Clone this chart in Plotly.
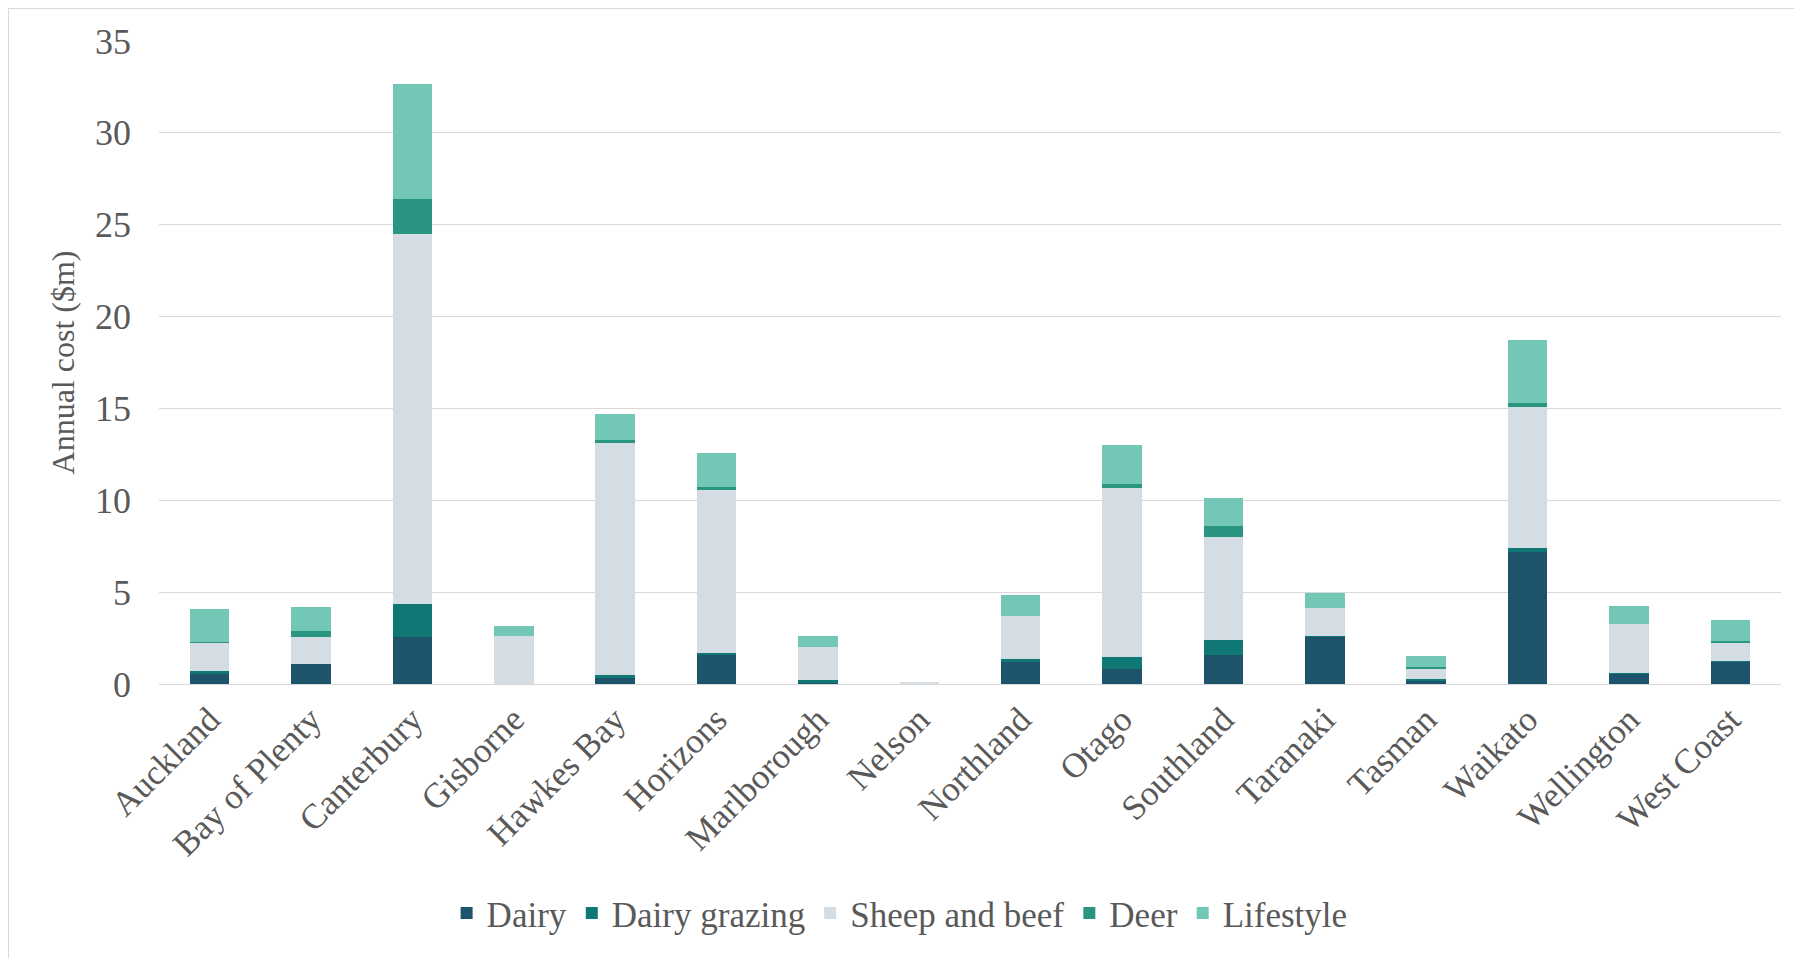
import plotly.graph_objects as go

regions = ["Auckland", "Bay of Plenty", "Canterbury", "Gisborne", "Hawkes Bay", "Horizons",
           "Marlborough", "Nelson", "Northland", "Otago", "Southland", "Taranaki",
           "Tasman", "Waikato", "Wellington", "West Coast"]

dairy          = [0.57, 1.07, 2.55, 0.00, 0.33, 1.63, 0.08, 0.00, 1.18, 0.83, 1.60, 2.57, 0.18, 7.21, 0.55, 1.25]
dairy_grazing  = [0.14, 0.00, 1.80, 0.00, 0.14, 0.05, 0.12, 0.00, 0.16, 0.66, 0.82, 0.03, 0.09, 0.22, 0.07, 0.02]
sheep_and_beef = [1.55, 1.51, 20.15, 2.60, 12.65, 8.87, 1.83, 0.09, 2.36, 9.20, 5.58, 1.55, 0.60, 7.64, 2.62, 0.98]
deer           = [0.02, 0.29, 1.90, 0.00, 0.18, 0.18, 0.00, 0.00, 0.00, 0.18, 0.62, 0.00, 0.07, 0.22, 0.00, 0.11]
lifestyle      = [1.80, 1.30, 6.25, 0.56, 1.39, 1.84, 0.60, 0.00, 1.14, 2.12, 1.52, 0.78, 0.60, 3.44, 1.00, 1.12]

series = [
    ("Dairy", dairy, "#1E546B"),
    ("Dairy grazing", dairy_grazing, "#0F7875"),
    ("Sheep and beef", sheep_and_beef, "#D3DDE3"),
    ("Deer", deer, "#2A9682"),
    ("Lifestyle", lifestyle, "#72C7B6"),
]

FONT = "Liberation Serif, Times New Roman, serif"
TXT = "#595959"

fig = go.Figure()
for name, vals, col in series:
    fig.add_trace(go.Bar(x=regions, y=vals, name=name,
                         marker=dict(color=col, line=dict(width=0))))

# page body has an 8px margin
OFF = 8
W, H = 1802 - OFF, 958 - OFF
L, R, T, B = 159 - OFF, 21, 41 - OFF, 274
pw, ph = W - L - R, H - T - B

fig.update_layout(
    barmode="stack",
    bargap=0.61,
    width=W, height=H,
    margin=dict(l=L, r=R, t=T, b=B, pad=0),
    paper_bgcolor="white",
    plot_bgcolor="white",
    font=dict(family=FONT, color=TXT, size=34),
    legend=dict(orientation="h", xref="container", x=0.497, xanchor="center",
                yref="container", y=0.047, yanchor="middle",
                font=dict(family=FONT, size=35, color=TXT),
                entrywidth=0, tracegroupgap=0, traceorder="normal"),
    xaxis=dict(tickangle=-45, tickfont=dict(family=FONT, size=35, color=TXT),
               showgrid=False, showline=True, linecolor="#D9D9D9", linewidth=1,
               ticks="", ticklen=0),
    yaxis=dict(range=[0, 35], dtick=5, tick0=0,
               showgrid=True, gridcolor="#D9D9D9", gridwidth=1,
               zeroline=False, showline=False, ticks="", ticklen=0,
               ticklabelstandoff=27,
               tickfont=dict(family=FONT, size=36, color=TXT),
               title=dict(text="Annual cost ($m)", standoff=10,
                          font=dict(family=FONT, size=32, color=TXT))),
    shapes=[dict(type="rect", xref="paper", yref="paper",
                 x0=(0 - L) / pw, x1=(W + 10 - L) / pw,
                 y0=-(H + 10 - (T + ph)) / ph, y1=(T + ph - 0) / ph,
                 line=dict(color="#D9D9D9", width=2), fillcolor="rgba(0,0,0,0)",
                 layer="below")],
)

fig.write_html("out.html")
